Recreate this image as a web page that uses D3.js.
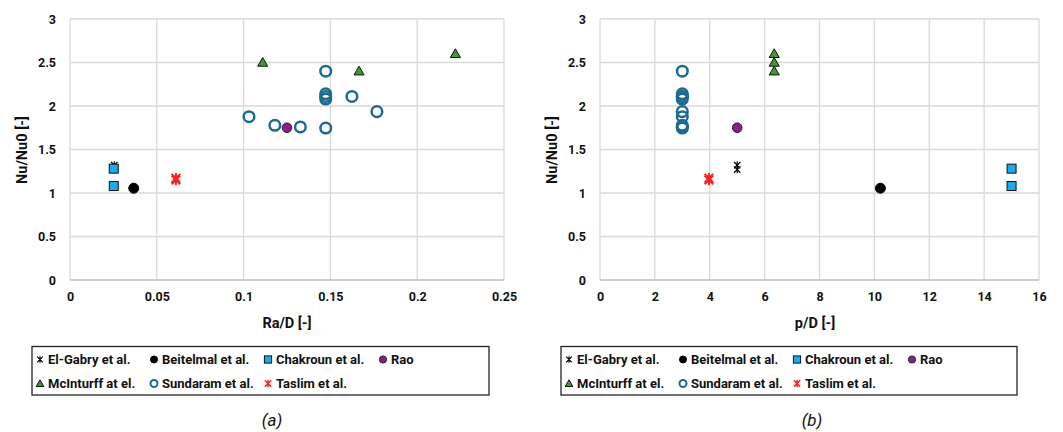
<!DOCTYPE html>
<html><head><meta charset="utf-8">
<script src="https://cdn.jsdelivr.net/npm/d3@7"></script>
<style>
html,body{margin:0;padding:0;background:#fff;}
svg{display:block;}
text{font-family:Roboto,"Liberation Sans",Arial,sans-serif;}
</style></head>
<body>
<svg id="c" width="1063" height="432"></svg>
<script>
// ---- data ----
const seriesNames = ["El-Gabry et al.", "Beitelmal et al.", "Chakroun et al.", "Rao", "McInturff at el.", "Sundaram et al.", "Taslim et al."];
const elGabryRaD = [0.0255, 0.0255], elGabryPD = [5, 5], elGabryNu = [1.32, 1.27];
const beitelmalRaD = [0.0367], beitelmalPD = [10.22], beitelmalNu = [1.055];
const chakrounRaD = [0.0252, 0.0252], chakrounPD = [15, 15], chakrounNu = [1.28, 1.08];
const raoRaD = [0.125], raoPD = [5], raoNu = [1.75];
const mcinturffRaD = [0.111, 0.1665, 0.222], mcinturffPD = [6.35, 6.35, 6.35], mcinturffNu = [2.5, 2.4, 2.6];
const sundaramRaD = [0.1473, 0.1473, 0.1473, 0.1473, 0.1624, 0.1768, 0.1031, 0.118, 0.1327, 0.1473];
const sundaramPD = [3, 3, 3, 3, 3, 3, 3, 3, 3, 3];
const sundaramNu = [2.4, 2.14, 2.11, 2.08, 2.11, 1.935, 1.877, 1.778, 1.759, 1.747];
const taslimRaD = [0.061, 0.061], taslimPD = [3.97, 3.97], taslimNu = [1.15, 1.17];
const yTicks = [0, 0.5, 1, 1.5, 2, 2.5, 3];
const xTicksA = [0, 0.05, 0.1, 0.15, 0.2, 0.25];
const xTicksB = [0, 2, 4, 6, 8, 10, 12, 14, 16];

const seriesRaD = [elGabryRaD, beitelmalRaD, chakrounRaD, raoRaD, mcinturffRaD, sundaramRaD, taslimRaD];
const seriesPD = [elGabryPD, beitelmalPD, chakrounPD, raoPD, mcinturffPD, sundaramPD, taslimPD];
const seriesNu = [elGabryNu, beitelmalNu, chakrounNu, raoNu, mcinturffNu, sundaramNu, taslimNu];

// ---- marker styles ----
function asteriskPath(s, plus) {
  const p = d3.path();
  p.moveTo(-s, -s); p.lineTo(s, s);
  p.moveTo(-s, s); p.lineTo(s, -s);
  p.moveTo(0, -s * 1.2); p.lineTo(0, s * 1.2);
  if (plus) { p.moveTo(-s * 1.2, 0); p.lineTo(s * 1.2, 0); }
  return p.toString();
}
function drawMarker(g, i, x, y, legend) {
  const sel = g.append("g").attr("transform", `translate(${x},${y})`);
  switch (i) {
    case 0: sel.append("path").attr("d", asteriskPath(legend ? 2.8 : 3.2, false)).attr("fill", "none").attr("stroke", "#000").attr("stroke-width", 1.2); break;
    case 1: sel.append("circle").attr("r", legend ? 3.5 : 5).attr("fill", "#000").attr("stroke", "#000"); break;
    case 2: {
      const h = legend ? 3.6 : 4.5;
      sel.append("rect").attr("x", -h).attr("y", -h).attr("width", 2 * h).attr("height", 2 * h).attr("fill", "#1aabe8").attr("stroke", "#111").attr("stroke-width", 1);
      break;
    }
    case 3: sel.append("circle").attr("r", legend ? 3.6 : 4.8).attr("fill", "#8e1f8a").attr("stroke", "#222").attr("stroke-width", 1); break;
    case 4: sel.append("path").attr("d", d3.symbol(d3.symbolTriangle, legend ? 26 : 44)()).attr("transform", "translate(0,0.8)").attr("fill", "#3f9a2c").attr("stroke", "#111").attr("stroke-width", 1); break;
    case 5: sel.append("circle").attr("r", legend ? 3.5 : 5.3).attr("fill", "none").attr("stroke", "#1d6a8e").attr("stroke-width", legend ? 2 : 2.5); break;
    case 6: sel.append("path").attr("d", asteriskPath(legend ? 3.2 : 4.3, false)).attr("fill", "none").attr("stroke", "#ff2020").attr("stroke-width", legend ? 1.5 : 2); break;
  }
}

const svg = d3.select("#c");

function chart(cfg) {
  const x = d3.scaleLinear().domain(cfg.xDomain).range([cfg.left, cfg.right]);
  const y = d3.scaleLinear().domain([0, 3]).range([280, 19]);
  const g = svg.append("g");
  // grid
  g.selectAll(".vg").data(cfg.xTicks).enter().append("line")
    .attr("x1", d => x(d)).attr("x2", d => x(d)).attr("y1", y(0)).attr("y2", y(3))
    .attr("stroke", "#d9d9d9").attr("stroke-width", 1.3);
  g.selectAll(".hg").data(yTicks).enter().append("line")
    .attr("x1", x(cfg.xDomain[0])).attr("x2", x(cfg.xDomain[1])).attr("y1", d => y(d)).attr("y2", d => y(d))
    .attr("stroke", d => d === 0 ? "#bfbfbf" : "#d9d9d9").attr("stroke-width", 1.3);
  // axes (labels)
  const xa = g.append("g").attr("transform", `translate(0,${y(0)})`)
    .call(d3.axisBottom(x).tickValues(cfg.xTicks).tickSize(0).tickPadding(12).tickFormat(d => String(d)));
  xa.select(".domain").remove();
  xa.selectAll("text").attr("font-size", 12.5).attr("font-weight", "bold").attr("fill", "#111");
  const ya = g.append("g").attr("transform", `translate(${cfg.left},0)`)
    .call(d3.axisLeft(y).tickValues(yTicks).tickSize(0).tickPadding(cfg.yPad).tickFormat(d => String(d)));
  ya.select(".domain").remove();
  ya.selectAll("text").attr("font-size", 12.5).attr("font-weight", "bold").attr("fill", "#111");
  // titles
  g.append("text").attr("x", cfg.xTitleX).attr("y", 328).attr("text-anchor", "middle")
    .attr("font-size", 14.5).attr("font-weight", "bold").attr("fill", "#111").text(cfg.xTitle);
  g.append("text").attr("transform", `translate(${cfg.yTitleX},150) rotate(-90)`).attr("text-anchor", "middle")
    .attr("font-size", 14.5).attr("font-weight", "bold").attr("fill", "#111").text("Nu/Nu0 [-]");
  // points
  const pts = g.append("g");
  seriesNames.forEach((name, i) => {
    const xs = cfg.xs[i], ys = seriesNu[i];
    xs.forEach((xv, j) => drawMarker(pts, i, x(xv), y(ys[j]), false));
  });
  // legend
  const L = cfg.legendLeft;
  const lg = g.append("g");
  lg.append("rect").attr("x", L).attr("y", 346.5).attr("width", cfg.legendW).attr("height", 48.5)
    .attr("fill", "#fff").attr("stroke", "#222").attr("stroke-width", 1.3);
  const colOff = [8, 122, 236, 351];
  const rows = [359.5, 383.5];
  seriesNames.forEach((name, i) => {
    const r = i < 4 ? 0 : 1, c = i < 4 ? i : i - 4;
    const mx = L + colOff[c];
    drawMarker(lg, i, mx, rows[r], true);
    lg.append("text").attr("x", mx + 8).attr("y", rows[r]).attr("dy", "0.36em")
      .attr("font-size", 13).attr("font-weight", "bold").attr("fill", "#111").text(name);
  });
  // caption
  g.append("text").attr("x", cfg.capX).attr("y", 426).attr("text-anchor", "middle")
    .attr("font-size", 17).attr("font-style", "italic").attr("fill", "#111").text(cfg.caption);
}

chart({ xDomain: [0, 0.25], left: 70, right: 504, xTicks: xTicksA, xs: seriesRaD, xTitle: "Ra/D [-]", xTitleX: 287,
  yTitleX: 27, yPad: 14, legendLeft: 32, legendW: 457, caption: "(a)", capX: 272 });
chart({ xDomain: [0, 16], left: 600, right: 1039, xTicks: xTicksB, xs: seriesPD, xTitle: "p/D [-]", xTitleX: 815,
  yTitleX: 557, yPad: 14, legendLeft: 561, legendW: 456, caption: "(b)", capX: 812 });
</script>
</body></html>
